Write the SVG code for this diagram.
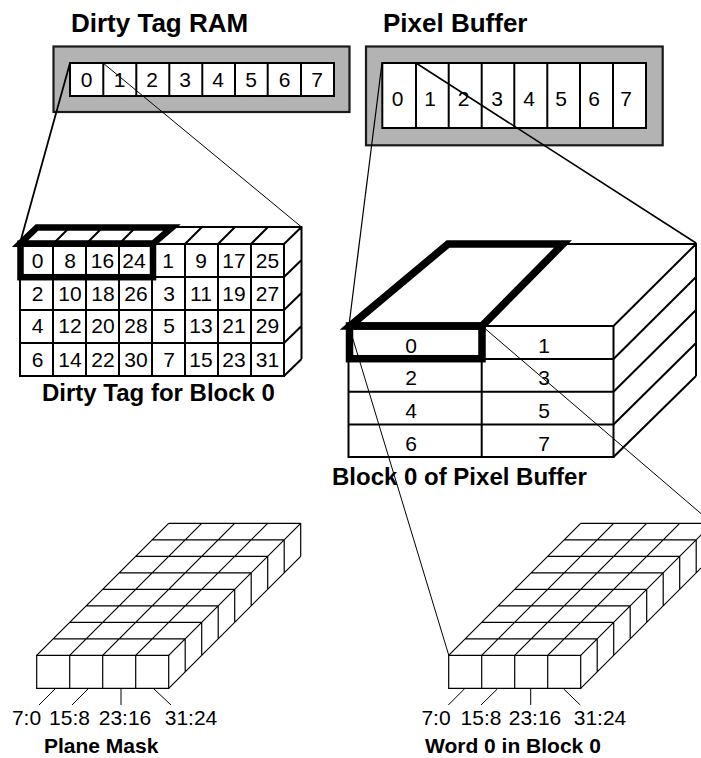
<svg xmlns="http://www.w3.org/2000/svg" width="701" height="758" viewBox="0 0 701 758">
<style>
text{font-family:"Liberation Sans",Arial,sans-serif;fill:#000}
.n{font-size:21px;text-anchor:middle}
.l{font-size:21px;text-anchor:middle}
.t{font-size:26px;font-weight:bold}
.c{font-size:24px;font-weight:bold}
.s{font-size:21px;font-weight:bold}
.box{fill:#b3b3b3;stroke:#1a1a1a;stroke-width:2.2}
.w{fill:#fff;stroke:#000;stroke-width:2}
.g{fill:none;stroke:#000;stroke-width:2}
.th{fill:none;stroke:#000;stroke-width:6.5;stroke-miterlimit:10}
.th2{fill:none;stroke:#000;stroke-width:7.500;stroke-miterlimit:10}
.sl{fill:none;stroke:#000;stroke-width:1.2}
.tick{fill:none;stroke:#000;stroke-width:1}
</style>
<defs>
<g id="slab">
<path class="sl" d="M0,0H132V33H0Z"/>
<path class="sl" d="M33,0v33M66,0v33M99,0v33M16.5,-16.5H148.5M33,-33H165M49.5,-49.5H181.5M66,-66H198M82.5,-82.5H214.5M99,-99H231M115.5,-115.5H247.5M132,-132H264M0,0L132,-132M33,0L165,-132M66,0L198,-132M99,0L231,-132M132,0L264,-132M132,33L264,-99M148.5,-16.5v33M165,-33v33M181.5,-49.5v33M198,-66v33M214.5,-82.5v33M231,-99v33M247.5,-115.5v33M264,-132v33"/>
</g>
</defs>
<g id="dirty-tag-ram">
<text class="t" x="71" y="32">Dirty Tag RAM</text>
<rect class="box" x="53.5" y="46.5" width="296" height="65.5"/>
<rect class="w" x="70" y="63" width="264" height="33"/>
<path class="g" d="M103.3,63V96M136.3,63V96M169.3,63V96M202.3,63V96M235,63V96M267.7,63V96M301,63V96"/>
<text class="n" x="86.500" y="87">0</text><text class="n" x="119.500" y="87">1</text><text class="n" x="152" y="87">2</text><text class="n" x="185" y="87">3</text><text class="n" x="218" y="87">4</text><text class="n" x="251" y="87">5</text><text class="n" x="284.500" y="87">6</text><text class="n" x="317" y="87">7</text>
</g>
<g id="pixel-buffer">
<text class="t" x="383" y="32">Pixel Buffer</text>
<rect class="box" x="366" y="46.500" width="296.700" height="98.800"/>
<rect class="w" x="382.300" y="63" width="263.700" height="65"/>
<path class="g" d="M416,63V129M448.700,63V129M481.700,63V129M514.300,63V129M547.300,63V129M580,63V129M613,63V129"/>
<text class="n" x="397.500" y="106">0</text><text class="n" x="430" y="106">1</text><text class="n" x="463.500" y="106">2</text><text class="n" x="497" y="106">3</text><text class="n" x="529" y="106">4</text><text class="n" x="561" y="106">5</text><text class="n" x="594" y="106">6</text><text class="n" x="626" y="106">7</text>
</g>
<g id="dirty-tag-block">
<rect class="w" x="20" y="244" width="264" height="132"/>
<path class="g" d="M20,277H284M20,310H284M20,343H284M53,244V376M86,244V376M119,244V376M152,244V376M185,244V376M218,244V376M251,244V376M37,227H301.500V359M20,244L37,227M53,244L70,227M86,244L103,227M119,244L136,227M152,244L169,227M185,244L202,227M218,244L235,227M251,244L268,227M284,244L301.500,227M284,277L301.500,260M284,310L301.500,293M284,343L301.500,326M284,376L301.500,359"/>
<path class="th" d="M20,243.700L37,227.500H172L153,243.700Z"/>
<rect class="th" x="20.500" y="243.700" width="132.500" height="33.500"/>
<text class="n" x="37.700" y="268">0</text><text class="n" x="70" y="268">8</text><text class="n" x="102.500" y="268">16</text><text class="n" x="134" y="268">24</text><text class="n" x="168" y="268">1</text><text class="n" x="201" y="268">9</text><text class="n" x="234" y="268">17</text><text class="n" x="267.500" y="268">25</text>
<text class="n" x="37.700" y="301">2</text><text class="n" x="70" y="301">10</text><text class="n" x="103" y="301">18</text><text class="n" x="136" y="301">26</text><text class="n" x="169" y="301">3</text><text class="n" x="201" y="301">11</text><text class="n" x="234" y="301">19</text><text class="n" x="267.500" y="301">27</text>
<text class="n" x="37.700" y="333">4</text><text class="n" x="70" y="333">12</text><text class="n" x="103" y="333">20</text><text class="n" x="136" y="333">28</text><text class="n" x="169" y="333">5</text><text class="n" x="201" y="333">13</text><text class="n" x="234" y="333">21</text><text class="n" x="267.500" y="333">29</text>
<text class="n" x="37.700" y="366.500">6</text><text class="n" x="70" y="366.500">14</text><text class="n" x="103" y="366.500">22</text><text class="n" x="136" y="366.500">30</text><text class="n" x="169" y="366.500">7</text><text class="n" x="201" y="366.500">15</text><text class="n" x="234" y="366.500">23</text><text class="n" x="267.500" y="366.500">31</text>
<text class="c" x="42" y="401">Dirty Tag for Block 0</text>
</g>
<g id="pixel-block">
<rect class="w" x="348.500" y="326" width="265" height="131"/>
<path class="g" d="M348.500,359H613.500M348.500,391.700H613.500M348.500,424.500H613.500M481.700,326V457M448,244H696V376M613.500,326L696,244M613.500,359L696,277M613.500,391.700L696,310M613.500,424.500L696,343M613.500,457L696,376"/>
<path class="th2" d="M350,326L448,244H563L482,326Z"/>
<rect class="th2" x="349.500" y="326" width="132.500" height="32.700"/>
<text class="n" x="411" y="353">0</text><text class="n" x="544" y="353">1</text><text class="n" x="411" y="385">2</text><text class="n" x="544" y="385">3</text><text class="n" x="411" y="418">4</text><text class="n" x="544" y="418">5</text><text class="n" x="411" y="451">6</text><text class="n" x="544" y="451">7</text>
<text class="c" x="332" y="485">Block 0 of Pixel Buffer</text>
</g>
<g id="plane-mask">
<use href="#slab" x="36.700" y="655.300"/>
<path class="tick" d="M55,689L39,705M88,689L72,705M121,689V705M154,689L171,705"/>
<text class="l" x="26.500" y="725">7:0</text><text class="l" x="69.500" y="725">15:8</text><text class="l" x="125" y="725">23:16</text><text class="l" x="191" y="725">31:24</text>
<text class="s" x="44" y="753">Plane Mask</text>
</g>
<g id="word-0">
<use href="#slab" x="448.700" y="655.300"/>
<path class="tick" d="M464.300,689L448.300,705M497.300,689L481,705M530.700,689V705M563.700,689L580.300,705"/>
<text class="l" x="436" y="725">7:0</text><text class="l" x="481" y="725">15:8</text><text class="l" x="535" y="725">23:16</text><text class="l" x="600" y="725">31:24</text>
<text class="s" x="425" y="753">Word 0 in Block 0</text>
</g>
<g id="connectors" fill="none" stroke="#000">
<path stroke-width="1.800" d="M70,63L20,243"/>
<path stroke-width="1" d="M103,63L301.500,227"/>
<path stroke-width="1.200" d="M382,63L349,325"/>
<path stroke-width="1.600" d="M416,63L696,243"/>
<path stroke-width="1" d="M349,326L448.700,655"/>
<path stroke-width="1" d="M482,326L712,523"/>
</g>
</svg>
